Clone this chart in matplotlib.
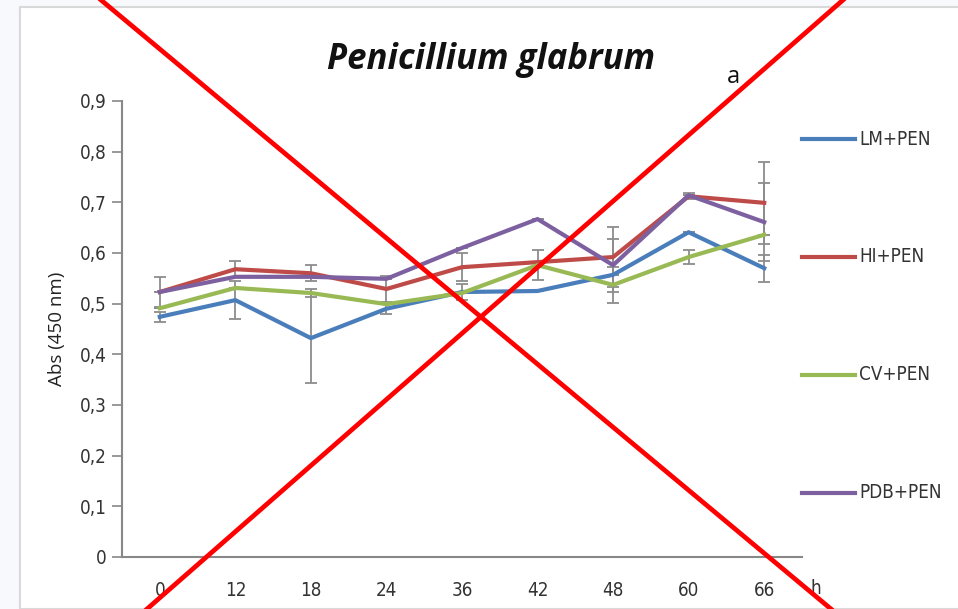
import matplotlib
matplotlib.use("Agg")
import matplotlib.pyplot as plt
from matplotlib.lines import Line2D
from matplotlib.patches import Rectangle
from matplotlib import font_manager

fl = font_manager.fontManager.ttflist
names = {f.name for f in fl}
if 'Liberation Sans Narrow' in names:
    narrow, stretch, nsize = 'Liberation Sans Narrow', 'normal', 14
elif any(f.name == 'DejaVu Sans' and f.stretch in ('condensed', 'semi-condensed') for f in fl):
    narrow, stretch, nsize = 'DejaVu Sans', 'condensed', 13.5
else:
    narrow, stretch, nsize = 'DejaVu Sans', 'normal', 12.5

# ---- data ----
hours = ['0', '12', '18', '24', '36', '42', '48', '60', '66']
series_names = ['LM+PEN', 'HI+PEN', 'CV+PEN', 'PDB+PEN']
lm_pen  = [0.474, 0.507, 0.432, 0.490, 0.523, 0.525, 0.557, 0.641, 0.570]
hi_pen  = [0.523, 0.568, 0.560, 0.529, 0.572, 0.582, 0.592, 0.712, 0.699]
cv_pen  = [0.491, 0.531, 0.521, 0.499, 0.521, 0.576, 0.537, 0.592, 0.636]
pdb_pen = [0.523, 0.553, 0.553, 0.549, 0.610, 0.667, 0.576, 0.714, 0.661]
lm_err  = [0.010, 0.037, 0.089, 0.010, 0.015, 0.000, 0.000, 0.000, 0.027]
hi_err  = [0.030, 0.016, 0.016, 0.026, 0.028, 0.000, 0.060, 0.006, 0.081]
cv_err  = [0.000, 0.000, 0.008, 0.000, 0.000, 0.030, 0.036, 0.014, 0.000]
pdb_err = [0.000, 0.000, 0.000, 0.000, 0.000, 0.000, 0.052, 0.000, 0.077]
yticks = [0, 0.1, 0.2, 0.3, 0.4, 0.5, 0.6, 0.7, 0.8, 0.9]

colors = ['#4a7ebb', '#be4b48', '#98b954', '#7d60a0']
values = [lm_pen, hi_pen, cv_pen, pdb_pen]
errors = [lm_err, hi_err, cv_err, pdb_err]

W, H = 958, 609
fig = plt.figure(figsize=(W / 100, H / 100), dpi=100, facecolor='#f7f9fc')

fig.add_artist(Rectangle((20 / W, 0), 1, 1 - 7 / H, transform=fig.transFigure,
                         facecolor='white', edgecolor='#d9d9d9', linewidth=1.5, zorder=0))

ax = fig.add_axes([122 / W, 1 - 557 / H, (802 - 122) / W, (557 - 101) / H])
ax.set_facecolor('none')
x = list(range(len(hours)))
for v, e, c, n in zip(values, errors, colors, series_names):
    ax.errorbar(x, v, yerr=e, fmt='none', ecolor='#8c8c8c', elinewidth=1.3,
                capsize=4, capthick=1.3, zorder=2)
    ax.plot(x, v, color=c, linewidth=3.0, label=n, zorder=3, solid_joinstyle='round')

tfont = dict(fontfamily=narrow, fontstretch=stretch, fontsize=nsize, color='#333333')
ax.set_xlim(-0.5, len(hours) - 0.5)
ax.set_ylim(0, 0.9)
ax.set_yticks(yticks)
ax.set_yticklabels([('%.1f' % t).replace('.', ',') if t != 0 else '0' for t in yticks], **tfont)
ax.set_xticks(x)
ax.set_xticklabels(hours, **tfont)
ax.tick_params(axis='x', length=0, pad=17)
ax.tick_params(axis='y', length=7, width=1.2, color='#888888', pad=4, direction='out')
for s in ['top', 'right']:
    ax.spines[s].set_visible(False)
for s in ['left', 'bottom']:
    ax.spines[s].set_color('#888888')
    ax.spines[s].set_linewidth(1.5)

ax.set_ylabel('Abs (450 nm)', fontfamily='Open Sans', fontsize=13.5, color='#222222', labelpad=10)

fig.text(816 / W, 1 - 588 / H, 'h', ha='center', va='center', **tfont)

fig.text(491 / W, 1 - 60 / H, 'Penicillium glabrum', fontfamily='Open Sans', fontweight='bold',
         fontstyle='italic', fontsize=25, ha='center', va='center', color='#111111')
fig.text(733 / W, 1 - 77 / H, 'a', fontfamily='Open Sans', fontsize=17, ha='center',
         va='center', color='#111111')

handles, labels = ax.get_legend_handles_labels()
leg_y = [139, 257, 375, 493]
for h, lab, yy in zip(handles, labels, leg_y):
    fig.add_artist(Line2D([802 / W, 855 / W], [1 - yy / H] * 2, transform=fig.transFigure,
                          color=h.get_color(), linewidth=3.0))
    fig.text(859 / W, 1 - yy / H, lab, ha='left', va='center', **tfont)

fig.add_artist(Line2D([101 / W, 831 / W], [1, 0], transform=fig.transFigure,
                      color='#ff0000', linewidth=3.4, zorder=10))
fig.add_artist(Line2D([843 / W, 147 / W], [1, 0], transform=fig.transFigure,
                      color='#ff0000', linewidth=3.4, zorder=10))

fig.savefig('out.png', dpi=100, facecolor=fig.get_facecolor())
